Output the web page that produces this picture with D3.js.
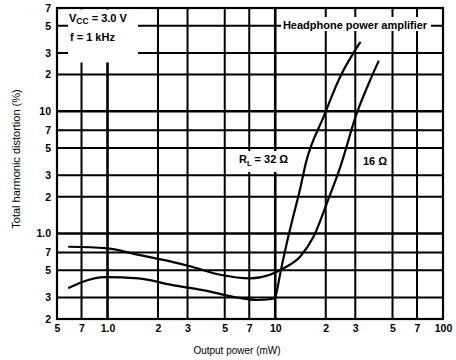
<!DOCTYPE html>
<html><head><meta charset="utf-8">
<script src="https://cdn.jsdelivr.net/npm/d3@7"></script>
<style>
html,body{margin:0;padding:0;background:#fff;}
svg{display:block;}
text{font-family:"Liberation Sans",Arial,Helvetica,sans-serif;fill:#000;}
</style></head>
<body>
<svg id="chart" width="456" height="360"></svg>
<script>
// ---- data ----
const xTicks = [0.5, 0.7, 1, 2, 3, 5, 7, 10, 20, 30, 50, 70, 100];
const xTickLabels = ["5", "7", "1.0", "2", "3", "5", "7", "10", "2", "3", "5", "7", "100"];
const yTicks = [0.2, 0.3, 0.5, 0.7, 1, 2, 3, 5, 7, 10, 20, 30, 50, 70];
const yTickLabels = ["2", "3", "5", "7", "1.0", "2", "3", "5", "7", "10", "2", "3", "5", "7"];

const power16 = [0.59, 0.97, 1.53, 2.4, 3.1, 4.7, 7.1, 9.3, 11.2, 14.1, 16.9, 20.3, 24.4, 30.6, 36.8, 41.2];
const thd16   = [0.78, 0.76, 0.67, 0.59, 0.54, 0.46, 0.43, 0.46, 0.52, 0.65, 0.94, 1.77, 3.5, 9.6, 18, 25.5];

const power32 = [0.59, 0.70, 0.97, 1.53, 2.4, 3.7, 5.9, 7.8, 9.3, 10.0, 10.2, 10.8, 11.7, 12.8, 14.1, 15.2, 19.4, 24.4, 29.2, 32.0];
const thd32   = [0.36, 0.40, 0.44, 0.43, 0.38, 0.345, 0.30, 0.286, 0.29, 0.30, 0.334, 0.50, 0.83, 1.38, 2.35, 3.75, 9.0, 19.2, 29.9, 36.5];

// ---- layout ----
const svg = d3.select("#chart");
const L = 57, R = 443, T = 8, B = 319;
const x = d3.scaleLog().domain([0.5, 100]).range([L, R]);
const y = d3.scaleLog().domain([0.2, 70]).range([B, T]);
const isDecade = v => Math.abs(Math.log10(v) - Math.round(Math.log10(v))) < 1e-9;

// gridlines
const grid = svg.append("g");
grid.selectAll("line.v").data(xTicks.slice(1, -1)).enter().append("line")
  .attr("x1", d => x(d)).attr("x2", d => x(d)).attr("y1", T).attr("y2", B)
  .attr("stroke", "#000").attr("stroke-width", d => isDecade(d) ? 2.6 : 2);
grid.selectAll("line.h").data(yTicks.slice(1, -1)).enter().append("line")
  .attr("y1", d => y(d)).attr("y2", d => y(d)).attr("x1", L).attr("x2", R)
  .attr("stroke", "#000").attr("stroke-width", d => isDecade(d) ? 2.6 : 2);
svg.append("rect").attr("x", L).attr("y", T).attr("width", R - L).attr("height", B - T)
  .attr("fill", "none").attr("stroke", "#000").attr("stroke-width", 2.2);

// axes (labels only)
const xAxis = d3.axisBottom(x).tickValues(xTicks).tickSize(0).tickPadding(0)
  .tickFormat((d, i) => xTickLabels[i]);
const gx = svg.append("g").attr("transform", `translate(0,${B + 6})`).call(xAxis);
gx.select(".domain").remove();
gx.selectAll("text").attr("font-size", 10.5).attr("font-weight", "bold")
  .attr("dy", "0.71em").style("font-family", "'Liberation Sans',Arial,sans-serif");

const yAxis = d3.axisLeft(y).tickValues(yTicks).tickSize(0).tickPadding(0)
  .tickFormat((d, i) => yTickLabels[i]);
const gy = svg.append("g").attr("transform", `translate(${L - 6},0)`).call(yAxis);
gy.select(".domain").remove();
gy.selectAll("text").attr("font-size", 10.5).attr("font-weight", "bold")
  .style("font-family", "'Liberation Sans',Arial,sans-serif");

// axis titles
svg.append("text").attr("x", 237).attr("y", 354).attr("text-anchor", "middle")
  .attr("font-size", 10).text("Output power (mW)");
svg.append("text").attr("transform", "translate(20,159) rotate(-90)")
  .attr("text-anchor", "middle").attr("font-size", 11).text("Total harmonic distortion (%)");

// annotation boxes
svg.append("rect").attr("x", 68).attr("y", T + 1.5).attr("width", 70).attr("height", 53).attr("fill", "#fff");
const vcc = svg.append("text").attr("x", 69).attr("y", 22).attr("font-size", 11).attr("font-weight", "bold");
vcc.append("tspan").text("V");
vcc.append("tspan").attr("font-size", 8.5).attr("dy", 2).text("CC");
vcc.append("tspan").attr("dy", -2).text(" = 3.0 V");
svg.append("text").attr("x", 70).attr("y", 41).attr("font-size", 11).attr("font-weight", "bold").text("f = 1 kHz");

svg.append("rect").attr("x", 281).attr("y", 17).attr("width", 150).attr("height", 14).attr("fill", "#fff");
svg.append("text").attr("x", 355).attr("y", 28.5).attr("text-anchor", "middle")
  .attr("font-size", 11).attr("font-weight", "bold").text("Headphone power amplifier");

svg.append("rect").attr("x", 237).attr("y", 151).attr("width", 62).attr("height", 21).attr("fill", "#fff");
const rl = svg.append("text").attr("x", 239).attr("y", 163).attr("font-size", 11).attr("font-weight", "bold");
rl.append("tspan").text("R");
rl.append("tspan").attr("font-size", 7.5).attr("dy", 3).text("L");
rl.append("tspan").attr("dy", -3).text(" = 32 Ω");
svg.append("rect").attr("x", 362).attr("y", 155).attr("width", 26).attr("height", 13).attr("fill", "#fff");
svg.append("text").attr("x", 363).attr("y", 165).attr("font-size", 11).attr("font-weight", "bold").text("16 Ω");

// curves
const line = d3.line().x(d => x(d[0])).y(d => y(d[1])).curve(d3.curveMonotoneX);
const s16 = power16.map((p, i) => [p, thd16[i]]);
const s32 = power32.map((p, i) => [p, thd32[i]]);
[s16, s32].forEach(s => {
  svg.append("path").attr("d", line(s)).attr("fill", "none")
    .attr("stroke", "#000").attr("stroke-width", 2.2).attr("stroke-linecap", "round");
});
</script>
</body></html>
